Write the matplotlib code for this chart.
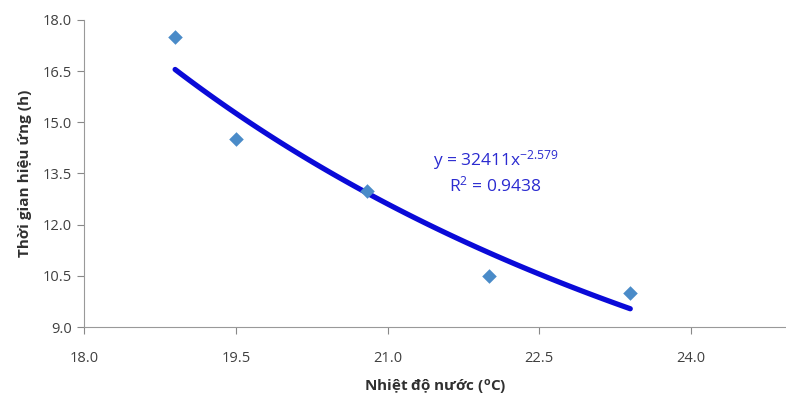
import matplotlib
matplotlib.use("Agg")
import matplotlib.pyplot as plt
import numpy as np

plt.rcParams['font.family'] = ['Open Sans', 'DejaVu Sans']
plt.rcParams['mathtext.default'] = 'regular'

# Nhiệt độ nước (°C) và thời gian hiệu ứng (h)
nhiet_do = [18.9, 19.5, 20.8, 22.0, 23.4]
thoi_gian = [17.5, 14.5, 13.0, 10.5, 10.0]

# đường xu hướng dạng lũy thừa, theo phương trình trên hình
he_so_a = 32411
so_mu_b = -2.579
r_binh_phuong = 0.9438

x_ticks = [18.0, 19.5, 21.0, 22.5, 24.0]
y_ticks = [9.0, 10.5, 12.0, 13.5, 15.0, 16.5, 18.0]

fig = plt.figure(figsize=(7.86, 3.97), dpi=100)
ax = fig.add_axes([0.107, 0.176, 0.893, 0.774])

x_fit = np.linspace(min(nhiet_do), max(nhiet_do), 100)
y_fit = he_so_a * x_fit ** so_mu_b
ax.plot(x_fit, y_fit, color='#0a0ad8', lw=3.8, solid_capstyle='round', zorder=2)
ax.scatter(nhiet_do, thoi_gian, marker='D', s=55, color='#4a8bc8', zorder=3, linewidths=0)

ax.text(22.07, 13.9, 'y = %dx$^{%.3f}$' % (he_so_a, so_mu_b), color='#2b2bd0',
        fontsize=12.5, ha='center', va='center')
ax.text(22.07, 13.15, 'R$^{2}$ = %.4f' % r_binh_phuong, color='#2b2bd0',
        fontsize=12.5, ha='center', va='center')

ax.set_xlim(18.0, 24.94)
ax.set_ylim(9.0, 18.0)
ax.set_xticks(x_ticks)
ax.set_yticks(y_ticks)
ax.set_xticklabels(['%.1f' % v for v in x_ticks])
ax.set_yticklabels(['%.1f' % v for v in y_ticks])
ax.tick_params(colors='#888888', labelcolor='#404040', labelsize=10.5, length=5, width=0.8)
ax.tick_params(axis='x', pad=12)

ax.set_xlabel('Nhiệt độ nước ($^{o}$C)', fontsize=11, fontweight='bold', color='#303030', labelpad=9)
ax.set_ylabel('Thời gian hiệu ứng (h)', fontsize=11, fontweight='bold', color='#303030', labelpad=8)

ax.spines['top'].set_visible(False)
ax.spines['right'].set_visible(False)
ax.spines['left'].set_color('#999999')
ax.spines['bottom'].set_color('#999999')

fig.savefig('out.png', dpi=100)
